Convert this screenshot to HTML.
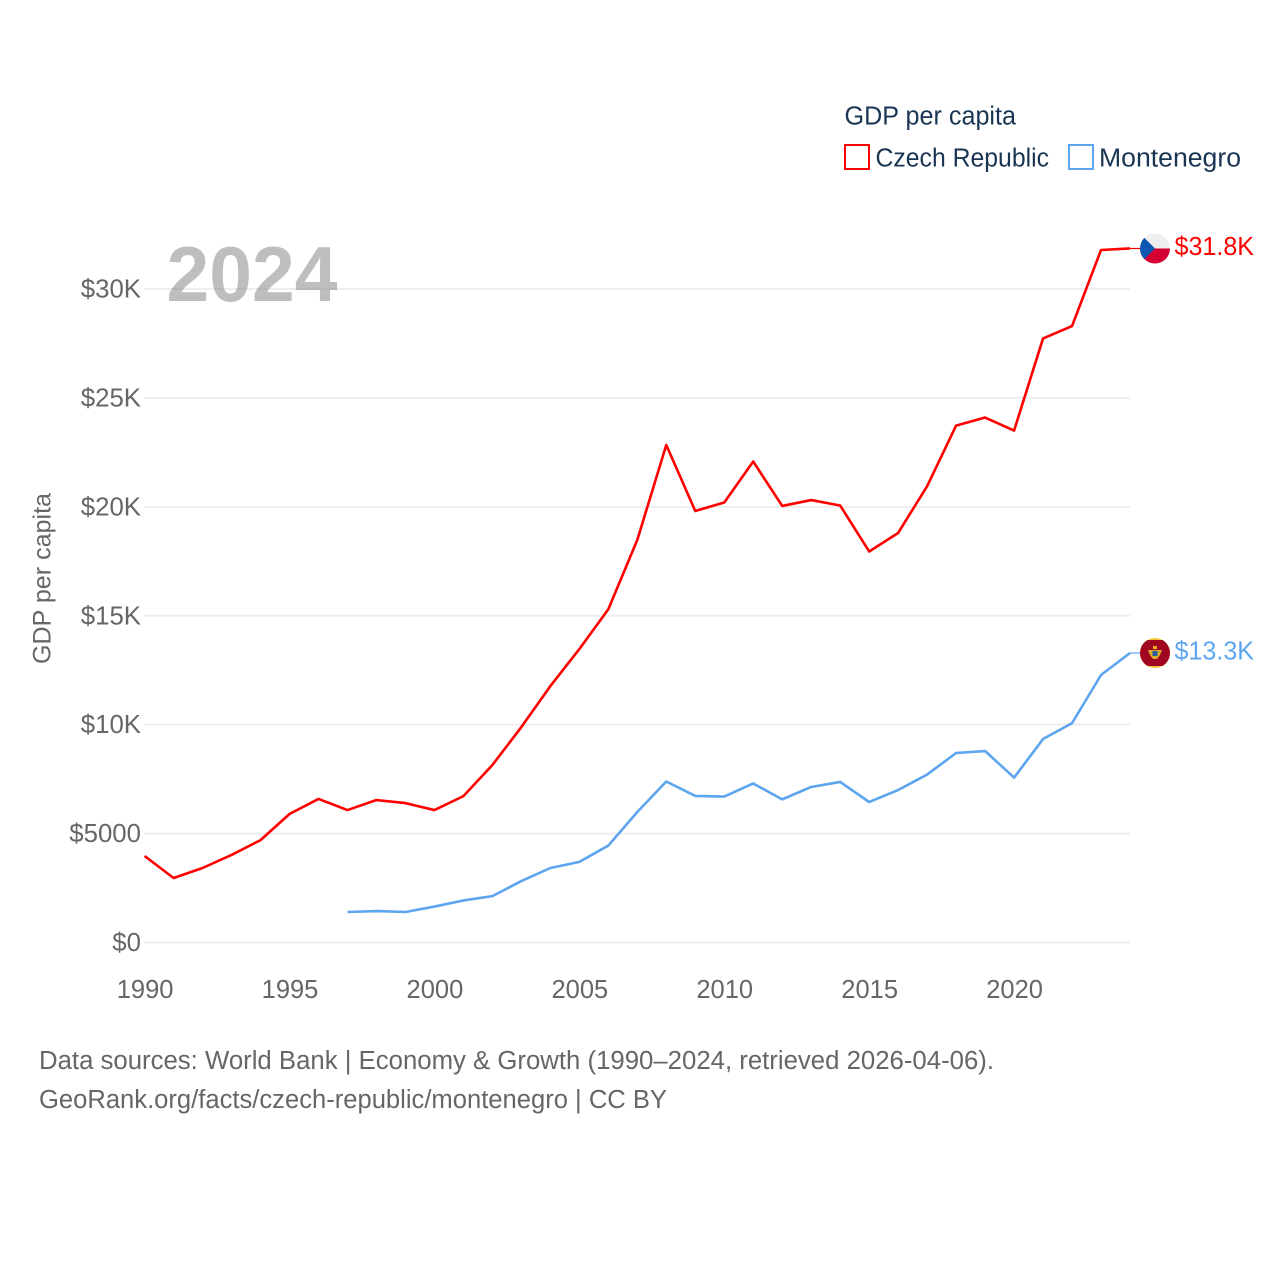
<!DOCTYPE html>
<html lang="en">
<head>
<meta charset="utf-8">
<title>GDP per capita: Czech Republic and Montenegro</title>
<style>
html,body{margin:0;padding:0;background:#fff}
svg{display:block}
text{font-family:"Liberation Sans",sans-serif}
</style>
</head>
<body>
<svg id="chart" xmlns="http://www.w3.org/2000/svg" width="1280" height="1280" viewBox="0 0 1280 1280">
  <defs>
    <clipPath id="flag-clip"><circle cx="0" cy="0" r="15"></circle></clipPath>
  </defs>
  <rect x="0" y="0" width="1280" height="1280" fill="#ffffff"></rect>

  <g id="grid"></g>
  <g id="y-ticks"></g>
  <g id="x-ticks"></g>

  <text x="166.5" y="301" font-size="78" font-weight="700" fill="rgba(125,125,125,0.5)" textLength="171" lengthAdjust="spacingAndGlyphs">2024</text>

  <text transform="translate(50.5,664) rotate(-90)" x="0" y="0" font-size="25" fill="#666666" textLength="171" lengthAdjust="spacingAndGlyphs">GDP per capita</text>

  <g id="series"></g>

  <g>
    <text x="844.5" y="124.5" font-size="25.5" fill="#1a3553" textLength="171.5" lengthAdjust="spacingAndGlyphs">GDP per capita</text>
    <rect x="845" y="145" width="24" height="24" fill="#ffffff" stroke="#ff0000" stroke-width="2"></rect>
    <text x="875.5" y="166.5" font-size="25.5" fill="#1a3553" textLength="173.5" lengthAdjust="spacingAndGlyphs">Czech Republic</text>
    <rect x="1069" y="145" width="24" height="24" fill="#ffffff" stroke="#5da5ee" stroke-width="2"></rect>
    <text x="1099" y="166.5" font-size="25.5" fill="#1a3553" textLength="142" lengthAdjust="spacingAndGlyphs">Montenegro</text>
  </g>

  <g>
    <text x="39" y="1069" font-size="25.5" fill="#666666" textLength="955" lengthAdjust="spacingAndGlyphs">Data sources: World Bank | Economy &amp; Growth (1990–2024, retrieved 2026-04-06).</text>
    <text x="39" y="1108" font-size="25.5" fill="#666666" textLength="628" lengthAdjust="spacingAndGlyphs">GeoRank.org/facts/czech-republic/montenegro | CC BY</text>
  </g>
</svg>

<script>
const yearStart = 1990;
const yearEnd = 2024;
const xTickLabels = ["1990", "1995", "2000", "2005", "2010", "2015", "2020"];
const yTickValues = [0, 5000, 10000, 15000, 20000, 25000, 30000];
const yTickLabels = ["$0", "$5000", "$10K", "$15K", "$20K", "$25K", "$30K"];

const czechYears = [1990,1991,1992,1993,1994,1995,1996,1997,1998,1999,2000,2001,2002,2003,2004,2005,2006,2007,2008,2009,2010,2011,2012,2013,2014,2015,2016,2017,2018,2019,2020,2021,2022,2023,2024];
const czechValues = [3970,2960,3420,4020,4700,5900,6590,6080,6540,6400,6080,6720,8150,9890,11770,13470,15300,18480,22840,19810,20200,22080,20040,20310,20060,17950,18800,20950,23730,24100,23500,27730,28300,31790,31860];
const czechLabel = "$31.8K";

const montenegroYears = [1997,1998,1999,2000,2001,2002,2003,2004,2005,2006,2007,2008,2009,2010,2011,2012,2013,2014,2015,2016,2017,2018,2019,2020,2021,2022,2023,2024];
const montenegroValues = [1400,1445,1400,1650,1930,2130,2820,3420,3700,4450,5990,7390,6730,6700,7300,6570,7140,7370,6450,7000,7710,8700,8790,7570,9340,10070,12280,13290];
const montenegroLabel = "$13.3K";

const NS = "http://www.w3.org/2000/svg";
const RED = "#ff0000";
const BLUE = "#5da5ee";

function xScale(year) {
  return 144.6 + (year - yearStart) * (1130 - 144.6) / (yearEnd - yearStart);
}
function yScale(value) {
  return 942.5 - value * (942.5 - 289) / 30000;
}
function make(tag, attrs, parent) {
  const el = document.createElementNS(NS, tag);
  Object.keys(attrs).forEach(function (k) { el.setAttribute(k, attrs[k]); });
  parent.appendChild(el);
  return el;
}

const gridGroup = document.getElementById("grid");
const yTickGroup = document.getElementById("y-ticks");
const xTickGroup = document.getElementById("x-ticks");
const seriesGroup = document.getElementById("series");

yTickValues.forEach(function (value, i) {
  const line = make("line", { x1: 144, x2: 1130, y1: yScale(value), y2: yScale(value), stroke: "#eeeeee", "stroke-width": 2 }, gridGroup);
  
  
  const label = make("text", { x: 141, y: yScale(value) + 8.5, "text-anchor": "end", "font-size": 25.8, fill: "#666666" }, yTickGroup);
  
  
  label.textContent = yTickLabels[i];
});

xTickLabels.forEach(function (tick) {
  const label = make("text", { x: xScale(Number(tick)) + 0.5, y: 998, "text-anchor": "middle", "font-size": 25.5, fill: "#666666" }, xTickGroup);
  
  
  label.textContent = tick;
});

function linePoints(years, values) {
  return years.map(function (year, i) {
    return xScale(year).toFixed(2) + "," + yScale(values[i]).toFixed(2);
  }).join(" ");
}

const czechLine = make("polyline", { points: linePoints(czechYears, czechValues), fill: "none", stroke: RED, "stroke-width": 2.6, "stroke-linejoin": "round" }, seriesGroup);



const montenegroLine = make("polyline", { points: linePoints(montenegroYears, montenegroValues), fill: "none", stroke: BLUE, "stroke-width": 2.6, "stroke-linejoin": "round" }, seriesGroup);



function endLeader(value, color) {
  const y = yScale(value);
  const leader = make("line", { x1: xScale(yearEnd), x2: 1140, y1: y, y2: y, stroke: color, "stroke-width": 1.2 }, seriesGroup);
  return leader;
}
function endLabel(value, text, color) {
  const label = make("text", { x: 1174.5, y: yScale(value) + 6.5, "font-size": 25.5, fill: color, textLength: 79.5, lengthAdjust: "spacingAndGlyphs" }, seriesGroup);
  label.textContent = text;
  return label;
}

const czechEnd = czechValues[czechValues.length - 1];
const czechLeader = endLeader(czechEnd, RED);


const czechValueLabel = endLabel(czechEnd, czechLabel, RED);



const czechFlag = make("g", { transform: "translate(1155," + yScale(czechEnd).toFixed(2) + ")" }, seriesGroup);


const czechClip = make("g", { "clip-path": "url(#flag-clip)" }, czechFlag);
make("rect", { x: -15, y: -15, width: 30, height: 15, fill: "#eeeeee" }, czechClip);
make("rect", { x: -15, y: 0, width: 30, height: 15, fill: "#d50032" }, czechClip);
make("polygon", { points: "-15,-15 0,0 -15,15", fill: "#0b56b0" }, czechClip);

const montenegroEnd = montenegroValues[montenegroValues.length - 1];
const montenegroLeader = endLeader(montenegroEnd, BLUE);


const montenegroValueLabel = endLabel(montenegroEnd, montenegroLabel, BLUE);



const montenegroFlag = make("g", { transform: "translate(1155," + yScale(montenegroEnd).toFixed(2) + ")" }, seriesGroup);


const montenegroClip = make("g", { "clip-path": "url(#flag-clip)" }, montenegroFlag);
make("rect", { x: -15, y: -15, width: 30, height: 30, fill: "#f2c53d" }, montenegroClip);
make("rect", { x: -15, y: -13, width: 30, height: 26, fill: "#a0061f" }, montenegroClip);
make("rect", { x: -2, y: -7, width: 4, height: 3, fill: "#e6b422" }, montenegroClip);
make("polygon", { points: "-7,-3 7,-3 5,2 2,6 -2,6 -5,2", fill: "#d9a92a" }, montenegroClip);
make("rect", { x: -2.5, y: -2, width: 5, height: 5, fill: "#2a5f9e" }, montenegroClip);
</script>
</body>
</html>
